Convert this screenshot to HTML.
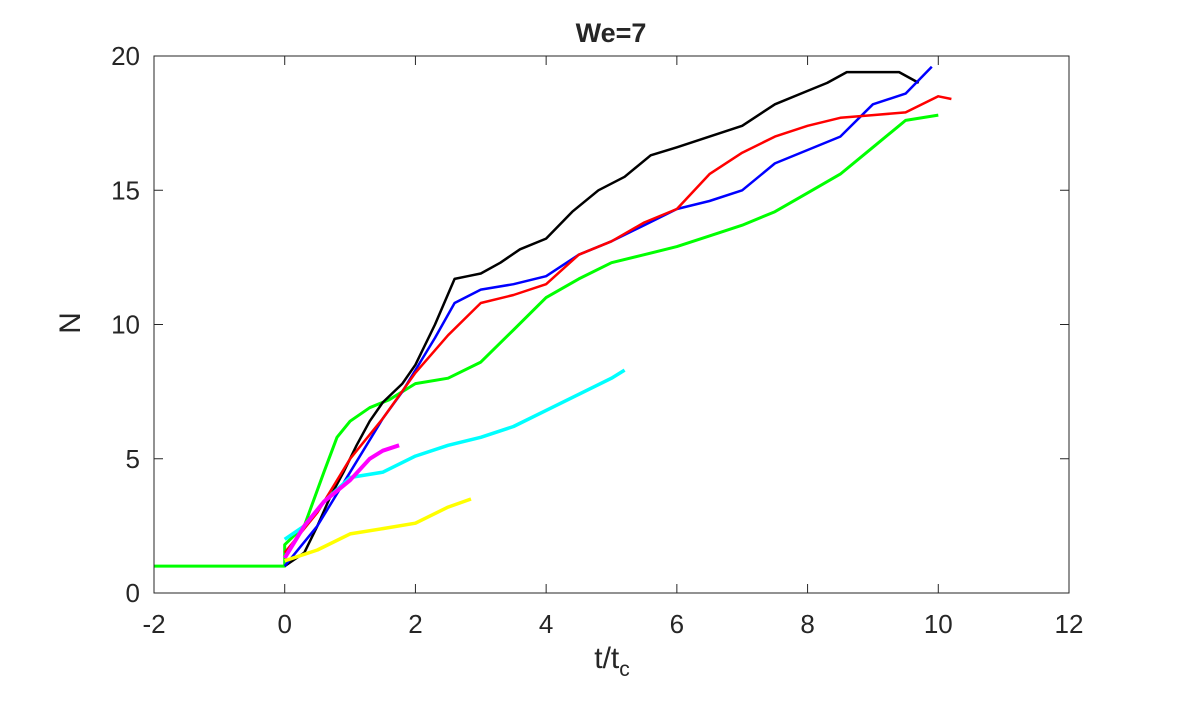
<!DOCTYPE html>
<html><head><meta charset="utf-8"><style>
body{margin:0;background:#fff;}
svg text{font-family:"Liberation Sans",sans-serif;fill:#262626;}
</style></head><body>
<svg id="chart" width="1181" height="709" xmlns="http://www.w3.org/2000/svg">
<rect width="1181" height="709" fill="#fff"/>
<text x="611" y="42" font-size="27" font-weight="bold" text-anchor="middle">We=7</text>
<g id="axes"></g>
<g id="series"></g>
<rect x="154" y="56" width="915" height="537" fill="none" stroke="#262626" stroke-width="1"/>
<text x="612" y="668" font-size="30" text-anchor="middle">t/t<tspan font-size="21" dy="8">c</tspan></text>
<text x="0" y="0" font-size="30" text-anchor="middle" transform="translate(80,323) rotate(-90)">N</text>
</svg>
<script>
const xTicks=[-2,0,2,4,6,8,10,12];
const yTicks=[0,5,10,15,20];
const blackX=[0,0.3,0.5,0.7,0.9,1.1,1.3,1.5,1.8,2.0,2.3,2.6,2.8,3.0,3.3,3.6,4.0,4.4,4.8,5.2,5.6,6.0,6.5,7.0,7.5,8.0,8.3,8.6,9.0,9.4,9.7];
const blackY=[1,1.5,2.5,3.6,4.5,5.5,6.4,7.1,7.8,8.5,10,11.7,11.8,11.9,12.3,12.8,13.2,14.2,15.0,15.5,16.3,16.6,17.0,17.4,18.2,18.7,19.0,19.4,19.4,19.4,19.0];
const blueX=[0,0.5,1,1.5,1.8,2,2.3,2.6,3,3.5,4,4.5,5,5.5,6,6.5,7,7.5,8,8.5,9,9.5,9.9];
const blueY=[1,2.5,4.5,6.5,7.5,8.3,9.5,10.8,11.3,11.5,11.8,12.6,13.1,13.7,14.3,14.6,15.0,16.0,16.5,17.0,18.2,18.6,19.6];
const redX=[0,0.5,1,1.5,2,2.5,3,3.5,4,4.5,5,5.5,6,6.5,7,7.5,8,8.5,9,9.5,10,10.2];
const redY=[1.5,3,5,6.5,8.2,9.6,10.8,11.1,11.5,12.6,13.1,13.8,14.3,15.6,16.4,17.0,17.4,17.7,17.8,17.9,18.5,18.4];
const greenX=[-2,0,0,0.3,0.6,0.8,1,1.3,1.6,2,2.5,3,3.5,4,4.5,5,5.5,6,6.5,7,7.5,8,8.5,9,9.5,10];
const greenY=[1,1,1.8,2.5,4.5,5.8,6.4,6.9,7.2,7.8,8.0,8.6,9.8,11.0,11.7,12.3,12.6,12.9,13.3,13.7,14.2,14.9,15.6,16.6,17.6,17.8];
const cyanX=[0,0.3,0.6,1,1.5,2,2.5,3,3.5,4,4.5,5,5.2];
const cyanY=[2,2.5,3.4,4.3,4.5,5.1,5.5,5.8,6.2,6.8,7.4,8.0,8.3];
const magentaX=[0,0.3,0.6,1,1.3,1.5,1.75];
const magentaY=[1.3,2.5,3.4,4.2,5,5.3,5.5];
const yellowX=[0,0.5,1,1.5,2,2.5,2.85];
const yellowY=[1.2,1.6,2.2,2.4,2.6,3.2,3.5];
const L=154,R=1069,T=56,B=593;
const sx=v=>L+(v+2)/14*(R-L);
const sy=v=>B-v/20*(B-T);
const NS="http://www.w3.org/2000/svg";
const ax=document.getElementById('axes');
function mk(tag,attrs,parent){const e=document.createElementNS(NS,tag);for(const k in attrs)e.setAttribute(k,attrs[k]);parent.appendChild(e);return e;}
xTicks.forEach(t=>{
 const x=sx(t);
 const l=mk('line',{x1:x,x2:x,y1:B,y2:B-9,stroke:'#262626'},ax);
 
 
 const l2=mk('line',{x1:x,x2:x,y1:T,y2:T+9,stroke:'#262626'},ax);
 
 
 const tx=mk('text',{x:x,y:B+40,'font-size':26,'text-anchor':'middle'},ax);
 tx.textContent=t;
 
 
});
yTicks.forEach(t=>{
 const y=sy(t);
 const l=mk('line',{x1:L,x2:L+9,y1:y,y2:y,stroke:'#262626'},ax);
 
 
 const l2=mk('line',{x1:R,x2:R-9,y1:y,y2:y,stroke:'#262626'},ax);
 
 
 const tx=mk('text',{x:L-14,y:y+9,'font-size':26,'text-anchor':'end'},ax);
 tx.textContent=t;
 
 
});
const sg=document.getElementById('series');
const series=[
 ['series-green',greenX,greenY,'#00ff00',3],
 ['series-black',blackX,blackY,'#000000',2.5],
 ['series-blue',blueX,blueY,'#0000ff',2.5],
 ['series-red',redX,redY,'#ff0000',2.5],
 ['series-cyan',cyanX,cyanY,'#00ffff',3.5],
 ['series-magenta',magentaX,magentaY,'#ff00ff',4],
 ['series-yellow',yellowX,yellowY,'#ffff00',3.5]
];
series.forEach(s=>{
 const d=s[1].map((x,i)=>(i?'L':'M')+sx(x).toFixed(1)+','+sy(s[2][i]).toFixed(1)).join('');
 const p=mk('path',{d:d,fill:'none',stroke:s[3],'stroke-width':s[4],'stroke-linejoin':'round'},sg);
 
 
});
</script>
</body></html>
